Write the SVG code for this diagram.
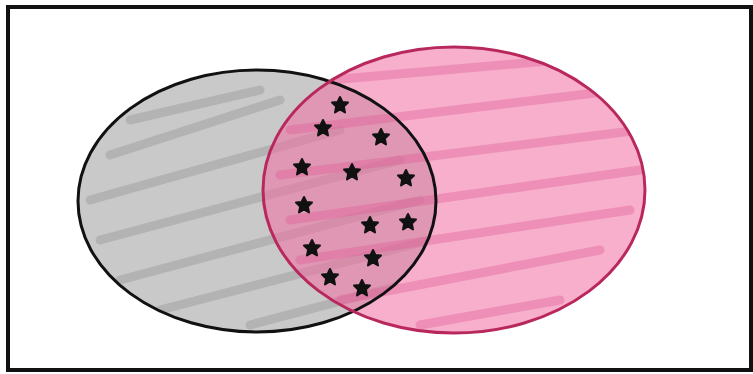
<svg xmlns="http://www.w3.org/2000/svg" width="753" height="374" viewBox="0 0 753 374">
<defs>
<style>
.frame{fill:none;stroke:#111;stroke-width:4}
.hg{stroke:#9a9a9a;stroke-width:9;stroke-linecap:round;opacity:.45;fill:none}
.hp{stroke:#e0609a;stroke-width:9;stroke-linecap:round;opacity:.4;fill:none}
.star{fill:#111;stroke:#111;stroke-width:2;stroke-linejoin:round}
</style>
<clipPath id="cg"><ellipse cx="257" cy="201" rx="179" ry="131"/></clipPath>
<clipPath id="cp"><ellipse cx="454" cy="190" rx="191" ry="143"/></clipPath>
<polygon id="st" points="0,-8 2.4,-3 8,-2.5 3.8,1.5 5,7.5 0,4.5 -5,7.5 -3.8,1.5 -8,-2.5 -2.4,-3"/>
</defs>
<rect class="frame" x="8" y="7" width="743" height="363"/>
<g id="setA">
<ellipse cx="257" cy="201" rx="179" ry="131" fill="#c9c9c9"/>
<g clip-path="url(#cg)">
<path class="hg" d="M110 155 L280 100 M90 200 L340 130 M100 240 L400 160 M120 280 L420 200 M160 310 L430 240 M250 325 L420 280 M130 120 L260 90"/>
</g>
</g>
<g id="setB">
<ellipse cx="454" cy="190" rx="191" ry="143" fill="#f06ea0" fill-opacity=".55"/>
<g clip-path="url(#cp)">
<path class="hp" d="M330 80 L560 60 M290 130 L620 90 M280 175 L640 130 M290 220 L640 170 M300 260 L630 210 M340 300 L600 250 M420 325 L560 300"/>
</g>
</g>
<g id="outlines">
<ellipse cx="257" cy="201" rx="179" ry="131" fill="none" stroke="#111" stroke-width="3"/>
<ellipse cx="454" cy="190" rx="191" ry="143" fill="none" stroke="#b8285c" stroke-width="3"/>
</g>
<g id="stars">
<use href="#st" class="star" x="340" y="105"/>
<use href="#st" class="star" x="323" y="128"/>
<use href="#st" class="star" x="381" y="137"/>
<use href="#st" class="star" x="302" y="167"/>
<use href="#st" class="star" x="352" y="172"/>
<use href="#st" class="star" x="406" y="178"/>
<use href="#st" class="star" x="304" y="205"/>
<use href="#st" class="star" x="370" y="225"/>
<use href="#st" class="star" x="408" y="222"/>
<use href="#st" class="star" x="312" y="248"/>
<use href="#st" class="star" x="373" y="258"/>
<use href="#st" class="star" x="330" y="277"/>
<use href="#st" class="star" x="362" y="288"/>
</g>
</svg>
